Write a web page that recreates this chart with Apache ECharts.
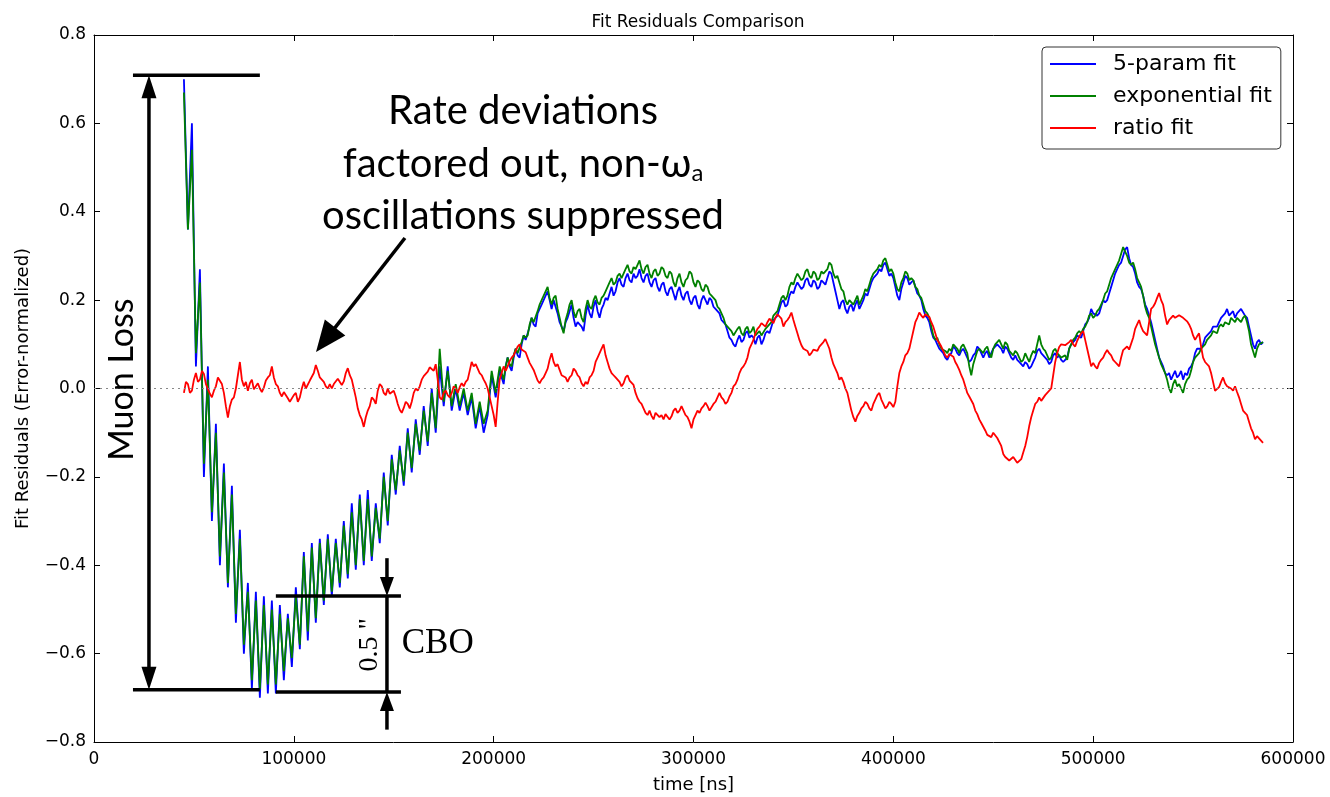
<!DOCTYPE html>
<html>
<head>
<meta charset="utf-8">
<script src="https://cdn.jsdelivr.net/npm/echarts@6/dist/echarts.min.js"></script>
<style>
  html, body { margin: 0; padding: 0; background: #fff; }
  #chart { width: 1330px; height: 797px; }
</style>
</head>
<body>
<div id="chart"></div>
<script>
// Residual series sampled every STEP_NS nanoseconds starting at START_NS.
// The *Mid arrays hold the samples that fall half a step after sample i,
// starting at the index given by the matching *_MID_FROM constant.
const START_NS = 45000;
const STEP_NS = 2000;

const fiveParamFit = [
  0.70, 0.36, 0.60, 0.05, 0.27, -0.20, 0.05, -0.30, -0.08, -0.40,
  -0.17, -0.45, -0.22, -0.53, -0.32, -0.60, -0.44, -0.68, -0.46, -0.70,
  -0.47, -0.69, -0.48, -0.69, -0.49, -0.66, -0.51, -0.63, -0.45, -0.59,
  -0.37, -0.57, -0.35, -0.53, -0.34, -0.49, -0.33, -0.47, -0.34, -0.45,
  -0.30, -0.43, -0.26, -0.41, -0.24, -0.40, -0.23, -0.39, -0.26, -0.35,
  -0.19, -0.31, -0.15, -0.24, -0.13, -0.22, -0.09, -0.19, -0.07, -0.15,
  -0.04, -0.13, 0.00, -0.10, 0.05, -0.04, 0.05, -0.05, 0.00, -0.05,
  -0.01, -0.06, -0.02, -0.09, -0.04, -0.10, -0.06, 0.03, -0.02, 0.04,
  0.01, 0.07, 0.04, 0.09, 0.07, 0.12, 0.11, 0.16, 0.14, 0.18,
  0.19, 0.22, 0.18, 0.20, 0.15, 0.13, 0.16, 0.19, 0.14, 0.15,
  0.13, 0.19, 0.16, 0.20, 0.16, 0.19, 0.20, 0.23, 0.22, 0.25,
  0.23, 0.26, 0.24, 0.25, 0.27, 0.24, 0.26, 0.23, 0.25, 0.22,
  0.24, 0.21, 0.23, 0.20, 0.23, 0.20, 0.22, 0.19, 0.21, 0.18,
  0.21, 0.19, 0.20, 0.18, 0.17, 0.15, 0.13, 0.11, 0.095, 0.12,
  0.11, 0.13, 0.12, 0.10, 0.12, 0.11, 0.13, 0.14, 0.16, 0.18,
  0.20, 0.19, 0.22, 0.23, 0.24, 0.23, 0.25, 0.23, 0.24, 0.23,
  0.24, 0.25, 0.26, 0.22, 0.18, 0.20, 0.17, 0.19, 0.19, 0.18,
  0.20, 0.21, 0.24, 0.25, 0.27, 0.28, 0.27, 0.26, 0.23, 0.20,
  0.24, 0.25, 0.24, 0.23, 0.21, 0.18, 0.16, 0.13, 0.11, 0.09,
  0.08, 0.065, 0.08, 0.09, 0.075, 0.09, 0.07, 0.065, 0.08, 0.09,
  0.07, 0.085, 0.08, 0.09, 0.10, 0.08, 0.09, 0.07, 0.075, 0.06,
  0.05, 0.055, 0.05, 0.07, 0.09, 0.08, 0.065, 0.06, 0.08, 0.075,
  0.06, 0.07, 0.10, 0.11, 0.12, 0.13, 0.15, 0.18, 0.17, 0.17,
  0.20, 0.20, 0.23, 0.26, 0.28, 0.30, 0.32, 0.28, 0.26, 0.23,
  0.21, 0.18, 0.15, 0.11, 0.07, 0.05, 0.03, 0.02, 0.04, 0.03,
  0.02, 0.03, 0.05, 0.08, 0.09, 0.10, 0.12, 0.13, 0.14, 0.15,
  0.16, 0.18, 0.17, 0.16, 0.17, 0.18, 0.16, 0.12, 0.09, 0.11,
  0.105
];
const FIVE_PARAM_MID_FROM = 80;
const fiveParamFitMid = [
  0.05, 0.05, 0.07, 0.075, 0.10, 0.11, 0.14, 0.145, 0.17, 0.19,
  0.21, 0.20, 0.20, 0.17, 0.14, 0.15, 0.175, 0.16, 0.15, 0.14,
  0.165, 0.17, 0.185, 0.175, 0.18, 0.205, 0.215, 0.21, 0.24, 0.235,
  0.25, 0.245, 0.26, 0.255, 0.25, 0.255, 0.24, 0.245, 0.23, 0.235,
  0.22, 0.225, 0.215, 0.22, 0.21, 0.215, 0.20, 0.205, 0.19, 0.20,
  0.20, 0.205, 0.185, 0.18, 0.155, 0.145, 0.115, 0.10, 0.11, 0.105,
  0.125, 0.115, 0.115, 0.115, 0.10, 0.125, 0.125, 0.155, 0.165, 0.195,
  0.185, 0.21, 0.215, 0.24, 0.225, 0.245, 0.235, 0.245, 0.225, 0.245,
  0.235, 0.265, 0.24, 0.20, 0.195, 0.18, 0.185, 0.175, 0.20, 0.19,
  0.215, 0.225, 0.25, 0.26, 0.265, 0.285, 0.255, 0.25, 0.21, 0.225,
  0.255, 0.235, 0.245, 0.215, 0.20, 0.165, 0.15, 0.115, 0.10, 0.085,
  0.07, 0.075, 0.095, 0.08, 0.085, 0.08, 0.06, 0.075, 0.095, 0.08,
  0.08, 0.07, 0.09, 0.10, 0.09, 0.095, 0.08, 0.065, 0.065, 0.055,
  0.06, 0.045, 0.06, 0.085, 0.08, 0.07, 0.055, 0.075, 0.07, 0.065,
  0.065, 0.09, 0.105, 0.12, 0.115, 0.145, 0.16, 0.17, 0.165, 0.185,
  0.195, 0.215, 0.245, 0.27, 0.285, 0.315, 0.295, 0.275, 0.24, 0.225,
  0.19, 0.165, 0.13, 0.09, 0.06, 0.035, 0.035, 0.03, 0.025, 0.04,
  0.035, 0.045, 0.06, 0.09, 0.09, 0.115, 0.12, 0.14, 0.14, 0.16,
  0.17, 0.165, 0.175, 0.17, 0.18, 0.165, 0.14, 0.10, 0.105, 0.10
];

const exponentialFit = [
  0.67, 0.36, 0.54, 0.08, 0.24, -0.17, 0.02, -0.28, -0.10, -0.38,
  -0.19, -0.44, -0.24, -0.51, -0.34, -0.58, -0.46, -0.66, -0.48, -0.68,
  -0.49, -0.67, -0.50, -0.67, -0.51, -0.64, -0.52, -0.61, -0.47, -0.58,
  -0.38, -0.55, -0.36, -0.52, -0.35, -0.48, -0.34, -0.46, -0.35, -0.44,
  -0.31, -0.42, -0.28, -0.40, -0.25, -0.39, -0.25, -0.38, -0.27, -0.34,
  -0.20, -0.30, -0.16, -0.23, -0.14, -0.21, -0.10, -0.18, -0.08, -0.14,
  -0.05, -0.12, -0.01, -0.09, 0.09, -0.03, 0.04, -0.04, 0.01, -0.04,
  0.00, -0.05, -0.01, -0.08, -0.03, -0.08, -0.05, 0.04, -0.01, 0.05,
  0.02, 0.07, 0.05, 0.09, 0.08, 0.12, 0.12, 0.16, 0.15, 0.19,
  0.20, 0.23, 0.19, 0.21, 0.16, 0.125, 0.17, 0.20, 0.16, 0.18,
  0.15, 0.20, 0.18, 0.21, 0.19, 0.21, 0.22, 0.25, 0.24, 0.26,
  0.25, 0.28, 0.26, 0.27, 0.29, 0.26, 0.28, 0.25, 0.27, 0.26,
  0.27, 0.25, 0.26, 0.23, 0.26, 0.23, 0.25, 0.26, 0.23, 0.24,
  0.22, 0.23, 0.21, 0.20, 0.18, 0.16, 0.14, 0.13, 0.12, 0.14,
  0.12, 0.14, 0.13, 0.12, 0.13, 0.12, 0.14, 0.15, 0.17, 0.19,
  0.21, 0.21, 0.24, 0.25, 0.26, 0.25, 0.27, 0.25, 0.26, 0.25,
  0.26, 0.27, 0.28, 0.25, 0.24, 0.22, 0.19, 0.20, 0.20, 0.19,
  0.21, 0.22, 0.25, 0.26, 0.28, 0.29, 0.28, 0.27, 0.24, 0.22,
  0.25, 0.26, 0.25, 0.23, 0.21, 0.19, 0.17, 0.14, 0.11, 0.10,
  0.09, 0.08, 0.085, 0.10, 0.08, 0.10, 0.08, 0.03, 0.07, 0.09,
  0.08, 0.095, 0.07, 0.10, 0.11, 0.09, 0.10, 0.08, 0.085, 0.07,
  0.065, 0.07, 0.075, 0.08, 0.12, 0.09, 0.075, 0.07, 0.09, 0.08,
  0.07, 0.065, 0.10, 0.115, 0.13, 0.135, 0.15, 0.17, 0.165, 0.18,
  0.20, 0.22, 0.25, 0.27, 0.29, 0.32, 0.30, 0.28, 0.27, 0.24,
  0.21, 0.17, 0.14, 0.10, 0.07, 0.045, 0.02, -0.01, 0.02, 0.01,
  -0.01, 0.02, 0.04, 0.07, 0.08, 0.09, 0.11, 0.12, 0.13, 0.14,
  0.14, 0.15, 0.16, 0.15, 0.16, 0.16, 0.15, 0.10, 0.07, 0.10,
  0.105
];
const EXPONENTIAL_MID_FROM = 80;
const exponentialFitMid = [
  0.05, 0.055, 0.075, 0.08, 0.105, 0.115, 0.145, 0.15, 0.175, 0.20,
  0.22, 0.205, 0.205, 0.18, 0.14, 0.155, 0.19, 0.175, 0.175, 0.16,
  0.18, 0.185, 0.20, 0.195, 0.205, 0.22, 0.24, 0.235, 0.255, 0.25,
  0.27, 0.265, 0.275, 0.28, 0.27, 0.275, 0.26, 0.265, 0.255, 0.275,
  0.255, 0.265, 0.24, 0.25, 0.24, 0.245, 0.265, 0.24, 0.245, 0.225,
  0.235, 0.215, 0.21, 0.185, 0.17, 0.145, 0.14, 0.12, 0.135, 0.125,
  0.135, 0.125, 0.14, 0.125, 0.12, 0.135, 0.14, 0.165, 0.175, 0.205,
  0.20, 0.23, 0.235, 0.26, 0.245, 0.265, 0.255, 0.265, 0.245, 0.265,
  0.26, 0.285, 0.26, 0.255, 0.225, 0.20, 0.20, 0.19, 0.21, 0.20,
  0.225, 0.235, 0.26, 0.27, 0.275, 0.295, 0.265, 0.26, 0.225, 0.24,
  0.265, 0.245, 0.245, 0.225, 0.205, 0.175, 0.16, 0.12, 0.115, 0.09,
  0.085, 0.09, 0.10, 0.09, 0.095, 0.09, 0.05, 0.055, 0.085, 0.09,
  0.09, 0.08, 0.09, 0.10, 0.10, 0.105, 0.085, 0.075, 0.08, 0.06,
  0.08, 0.06, 0.085, 0.10, 0.10, 0.085, 0.065, 0.085, 0.08, 0.07,
  0.075, 0.09, 0.11, 0.125, 0.125, 0.14, 0.165, 0.16, 0.175, 0.19,
  0.215, 0.235, 0.26, 0.28, 0.305, 0.31, 0.285, 0.285, 0.25, 0.23,
  0.185, 0.16, 0.12, 0.085, 0.055, 0.035, 0.0, 0.01, 0.005, 0.0,
  0.01, 0.025, 0.06, 0.07, 0.09, 0.10, 0.11, 0.13, 0.125, 0.145,
  0.15, 0.145, 0.155, 0.16, 0.15, 0.165, 0.13, 0.085, 0.09, 0.10
];

const ratioFit = [
  -0.01, 0.01, -0.005, 0.035, 0.02, 0.033, 0.008, -0.02, 0.005, 0.024,
  -0.01, -0.066, -0.025, 0.0, 0.06, 0.005, -0.005, 0.02, 0.005, 0.0,
  0.002, 0.025, 0.05, 0.01, -0.01, -0.008, -0.022, -0.03, -0.01, -0.02,
  0.015, 0.003, 0.02, 0.053, 0.025, 0.015, 0.0, 0.0, 0.012, 0.02,
  0.016, 0.046, 0.02, -0.02, -0.06, -0.087, -0.05, -0.02, -0.035, 0.01,
  -0.01, 0.0, -0.01, -0.018, -0.048, -0.044, -0.035, -0.03, 0.0, 0.005,
  0.028, 0.038, 0.05, 0.055, -0.02, -0.01, -0.015, -0.01, 0.0, 0.003,
  0.005, 0.02, 0.06, 0.055, 0.035, 0.02, 0.0, -0.04, -0.087, 0.02,
  0.05, 0.05, 0.07, 0.085, 0.1, 0.09, 0.07, 0.05, 0.03, 0.012,
  0.025, 0.045, 0.08, 0.05, 0.042, 0.03, 0.015, 0.03, 0.04, 0.025,
  0.005, 0.01, 0.03, 0.06, 0.08, 0.1, 0.06, 0.035, 0.025, 0.015,
  0.012, 0.03, 0.02, -0.01, -0.03, -0.045, -0.06, -0.062, -0.055, -0.065,
  -0.07, -0.06, -0.063, -0.045, -0.05, -0.05, -0.065, -0.09, -0.06, -0.055,
  -0.04, -0.04, -0.048, -0.03, -0.01, -0.025, -0.03, -0.01, 0.01, 0.035,
  0.05, 0.07, 0.1, 0.125, 0.14, 0.145, 0.15, 0.155, 0.16, 0.17,
  0.14, 0.155, 0.172, 0.14, 0.11, 0.09, 0.085, 0.08, 0.09, 0.095,
  0.105, 0.115, 0.07, 0.045, 0.02, 0.015, -0.01, -0.05, -0.075, -0.055,
  -0.04, -0.035, -0.05, -0.025, -0.01, -0.035, -0.04, -0.035, -0.03, 0.035,
  0.06, 0.08, 0.11, 0.15, 0.172, 0.16, 0.17, 0.15, 0.125, 0.103,
  0.085, 0.07, 0.08, 0.06, 0.042, 0.02, -0.01, -0.02, -0.05, -0.07,
  -0.08, -0.105, -0.11, -0.1, -0.11, -0.148, -0.157, -0.167, -0.158, -0.17,
  -0.145, -0.11, -0.065, -0.035, -0.02, -0.025, -0.01, 0.0, 0.06, 0.094,
  0.103, 0.094, 0.11, 0.095, 0.117, 0.13, 0.09, 0.05, 0.05, 0.058,
  0.07, 0.087, 0.075, 0.06, 0.05, 0.087, 0.095, 0.09, 0.135, 0.155,
  0.13, 0.12, 0.18, 0.193, 0.216, 0.19, 0.145, 0.16, 0.16, 0.166,
  0.16, 0.152, 0.135, 0.11, 0.125, 0.07, 0.062, 0.035, -0.005, 0.003,
  0.025, 0.005, 0.0, 0.005, -0.02, -0.05, -0.06, -0.09, -0.115, -0.11,
  -0.123
];
const RATIO_MID_FROM = 0;
const ratioFitMid = [
  0.015, -0.01, 0.02, 0.015, 0.04, 0.01, -0.012, -0.005, 0.025, 0.01,
  -0.04, -0.04, -0.02, 0.03, 0.02, 0.015, 0.012, -0.002, 0.012, -0.008,
  0.018, 0.03, 0.025, 0.005, -0.018, -0.012, -0.03, -0.015, -0.03, 0.0,
  0.0, 0.018, 0.035, 0.04, 0.025, 0.005, 0.01, 0.01, 0.022, 0.008,
  0.035, 0.03, 0.0, -0.045, -0.07, -0.065, -0.04, -0.025, -0.005, 0.005,
  -0.015, -0.012, -0.005, -0.035, -0.055, -0.03, -0.045, -0.01, -0.005, 0.02,
  0.03, 0.048, 0.04, 0.02, -0.025, -0.005, -0.02, 0.005, -0.01, 0.012,
  0.015, 0.04, 0.05, 0.045, 0.03, 0.012, -0.02, -0.06, -0.03, 0.035,
  0.04, 0.062, 0.075, 0.095, 0.088, 0.082, 0.058, 0.042, 0.018, 0.02,
  0.035, 0.065, 0.06, 0.055, 0.03, 0.025, 0.025, 0.045, 0.03, 0.012,
  0.015, 0.025, 0.04, 0.07, 0.09, 0.075, 0.045, 0.03, 0.022, 0.005,
  0.025, 0.018, 0.008, -0.022, -0.035, -0.055, -0.05, -0.07, -0.058, -0.06,
  -0.058, -0.07, -0.05, -0.055, -0.04, -0.06, -0.075, -0.07, -0.05, -0.045,
  -0.032, -0.05, -0.035, -0.02, -0.02, -0.035, -0.018, 0.005, 0.02, 0.045,
  0.058, 0.09, 0.11, 0.135, 0.148, 0.14, 0.158, 0.148, 0.168, 0.158,
  0.15, 0.162, 0.155, 0.125, 0.098, 0.092, 0.075, 0.088, 0.085, 0.10,
  0.112, 0.09, 0.055, 0.035, 0.025, 0.0, -0.03, -0.065, -0.062, -0.045,
  -0.03, -0.045, -0.035, -0.015, -0.025, -0.045, -0.03, -0.042, 0.005, 0.05,
  0.075, 0.09, 0.13, 0.16, 0.165, 0.168, 0.162, 0.14, 0.11, 0.095,
  0.075, 0.078, 0.072, 0.052, 0.03, 0.005, -0.018, -0.035, -0.058, -0.078,
  -0.095, -0.108, -0.10, -0.112, -0.13, -0.155, -0.163, -0.155, -0.168, -0.16,
  -0.13, -0.085, -0.05, -0.03, -0.028, -0.015, -0.012, 0.03, 0.08, 0.10,
  0.098, 0.105, 0.10, 0.108, 0.125, 0.11, 0.07, 0.058, 0.045, 0.065,
  0.08, 0.08, 0.065, 0.055, 0.07, 0.09, 0.088, 0.115, 0.145, 0.14,
  0.128, 0.15, 0.185, 0.205, 0.20, 0.165, 0.155, 0.165, 0.158, 0.162,
  0.158, 0.145, 0.12, 0.118, 0.095, 0.06, 0.05, 0.015, -0.002, 0.015,
  0.012, 0.008, -0.005, -0.008, -0.035, -0.055, -0.075, -0.10, -0.108, -0.118
];

const seriesNames = ['5-param fit', 'exponential fit', 'ratio fit'];
const seriesColors = ['#0000ff', '#008000', '#ff0000'];

const X_MIN = 0, X_MAX = 600000, X_INTERVAL = 100000;
const Y_MIN = -0.8, Y_MAX = 0.8, Y_INTERVAL = 0.2;

// interleave the regular samples with the half-step samples, in time order
function mergeSamples(main, mid, midFrom) {
  const pts = [];
  main.forEach((v, i) => {
    const t = START_NS + i * STEP_NS;
    pts.push([t, v]);
    const k = i - midFrom;
    if (k >= 0 && k < mid.length) pts.push([t + STEP_NS / 2, mid[k]]);
  });
  return pts;
}

const AXIS_FONT = 'DejaVu Sans';
const NOTE_FONT = 'Lato';
const SERIF_FONT = 'Liberation Serif';

const formatY = v => {
  const s = Math.abs(v).toFixed(1);
  return v < -1e-9 ? '\u2212' + s : s;
};
const formatX = v => String(Math.round(v));

const innerTick = { show: true, inside: true, length: 6, lineStyle: { color: '#000', width: 1 } };
const frameLine = { show: true, onZero: false, lineStyle: { color: '#000', width: 1 } };

const chart = echarts.init(document.getElementById('chart'), null, { renderer: 'canvas' });

const seriesData = [
  mergeSamples(fiveParamFit, fiveParamFitMid, FIVE_PARAM_MID_FROM),
  mergeSamples(exponentialFit, exponentialFitMid, EXPONENTIAL_MID_FROM),
  mergeSamples(ratioFit, ratioFitMid, RATIO_MID_FROM)
];

const lineSeries = seriesData.map((data, k) => ({
  name: seriesNames[k],
  type: 'line',
  data: data,
  symbol: 'none',
  showSymbol: false,
  silent: true,
  z: 2 + k,
  lineStyle: { color: seriesColors[k], width: 1.8 },
  itemStyle: { color: seriesColors[k] }
}));

// dotted zero reference
lineSeries[0].markLine = {
  silent: true,
  symbol: 'none',
  label: { show: false },
  lineStyle: { color: '#888', width: 1, type: [2, 4] },
  data: [{ yAxis: 0 }]
};

chart.setOption({
  animation: false,
  backgroundColor: '#fff',
  title: {
    text: 'Fit Residuals Comparison',
    left: 693, top: 9, textAlign: 'center',
    textStyle: { fontFamily: AXIS_FONT, fontSize: 17, fontWeight: 'normal', color: '#000' }
  },
  grid: { left: 94, right: 37, top: 35, bottom: 55, outerBoundsMode: 'none' },
  legend: {
    orient: 'vertical',
    left: 1042, top: 47,
    padding: [4, 9, 8, 8],
    itemGap: 6,
    icon: 'rect',
    itemWidth: 46, itemHeight: 2,
    data: seriesNames,
    backgroundColor: '#fff',
    borderColor: '#333', borderWidth: 1, borderRadius: 4,
    textStyle: { fontFamily: AXIS_FONT, fontSize: 22, color: '#000', lineHeight: 26, padding: [0, 0, 0, 12] }
  },
  xAxis: [
    {
      type: 'value', min: X_MIN, max: X_MAX, interval: X_INTERVAL, position: 'bottom',
      name: 'time [ns]', nameLocation: 'middle', nameGap: 34,
      nameTextStyle: { fontFamily: AXIS_FONT, fontSize: 18, color: '#000' },
      axisLine: frameLine, axisTick: innerTick,
      axisLabel: { color: '#000', fontFamily: AXIS_FONT, fontSize: 17, margin: 9, formatter: formatX },
      splitLine: { show: false }
    },
    {
      type: 'value', min: X_MIN, max: X_MAX, interval: X_INTERVAL, position: 'top',
      axisLine: frameLine, axisTick: innerTick,
      axisLabel: { show: false }, splitLine: { show: false }
    }
  ],
  yAxis: [
    {
      type: 'value', min: Y_MIN, max: Y_MAX, interval: Y_INTERVAL, position: 'left',
      name: 'Fit Residuals (Error-normalized)', nameLocation: 'middle', nameGap: 62, nameRotate: 90,
      nameTextStyle: { fontFamily: AXIS_FONT, fontSize: 18, color: '#000' },
      axisLine: frameLine, axisTick: innerTick,
      axisLabel: { color: '#000', fontFamily: AXIS_FONT, fontSize: 17, margin: 8, formatter: formatY },
      splitLine: { show: false }
    },
    {
      type: 'value', min: Y_MIN, max: Y_MAX, interval: Y_INTERVAL, position: 'right',
      axisLine: frameLine, axisTick: innerTick,
      axisLabel: { show: false }, splitLine: { show: false }
    }
  ],
  series: lineSeries
});

// Annotation anchors, in data units (time ns, residual)
const muonLoss = { xLeft: 19500, xRight: 83000, xArrow: 27500, yTop: 0.709, yBottom: -0.682, labelX: 14000, labelY: 0.02 };
const cbo = {
  xLeft: 91000, xRight: 153600, xArrow: 146600, yTop: -0.4695, yBottom: -0.687,
  yUpperTail: -0.384, yLowerTail: -0.772,
  sizeX: 138100, sizeY: -0.58, textX: 172000, textY: -0.578
};
const note = { tail: [155600, 0.3405], tip: [111100, 0.0826], textX: 214700, lineY: [0.628, 0.508, 0.390] };

const px = (x, y) => chart.convertToPixel({ gridIndex: 0 }, [x, y]);

function segment(a, b, w) {
  return { type: 'line', z: 50, shape: { x1: a[0], y1: a[1], x2: b[0], y2: b[1] }, style: { stroke: '#000', lineWidth: w || 3.5 } };
}
function head(tip, from, len, half) {
  const dx = tip[0] - from[0], dy = tip[1] - from[1];
  const d = Math.hypot(dx, dy), ux = dx / d, uy = dy / d;
  const bx = tip[0] - ux * len, by = tip[1] - uy * len;
  return {
    type: 'polygon', z: 51,
    shape: { points: [[tip[0], tip[1]], [bx - uy * half, by + ux * half], [bx + uy * half, by - ux * half]] },
    style: { fill: '#000' }
  };
}
function arrowTo(from, tip, len, half, w) {
  const d = Math.hypot(tip[0] - from[0], tip[1] - from[1]);
  const t = (d - len * 0.6) / d;
  const stop = [from[0] + (tip[0] - from[0]) * t, from[1] + (tip[1] - from[1]) * t];
  return [segment(from, stop, w), head(tip, from, len, half)];
}
function label(p, text, font, size, rot) {
  return {
    type: 'text', z: 52, x: p[0], y: p[1], rotation: rot || 0,
    style: {
      text: text, fontFamily: font, fontSize: size, fill: '#000',
      align: 'center', verticalAlign: 'middle', textAlign: 'center', textVerticalAlign: 'middle'
    }
  };
}

const els = [];
// muon loss bracket
const mTopL = px(muonLoss.xLeft, muonLoss.yTop), mTopR = px(muonLoss.xRight, muonLoss.yTop);
const mBotL = px(muonLoss.xLeft, muonLoss.yBottom), mBotR = px(muonLoss.xRight, muonLoss.yBottom);
const mA = px(muonLoss.xArrow, muonLoss.yTop), mB = px(muonLoss.xArrow, muonLoss.yBottom);
els.push(segment(mTopL, mTopR), segment(mBotL, mBotR));
els.push(segment([mA[0], mA[1] + 15], [mB[0], mB[1] - 15]));
els.push(head(mA, mB, 23, 7.5), head(mB, mA, 23, 7.5));
els.push(label(px(muonLoss.labelX, muonLoss.labelY), 'Muon Loss', NOTE_FONT, 34, Math.PI / 2));

// CBO amplitude marker
const cTopL = px(cbo.xLeft, cbo.yTop), cTopR = px(cbo.xRight, cbo.yTop);
const cBotL = px(cbo.xLeft, cbo.yBottom), cBotR = px(cbo.xRight, cbo.yBottom);
const cA = px(cbo.xArrow, cbo.yTop), cB = px(cbo.xArrow, cbo.yBottom);
els.push(segment(cTopL, cTopR), segment(cBotL, cBotR), segment(cA, cB));
els.push(...arrowTo(px(cbo.xArrow, cbo.yUpperTail), cA, 19, 7));
els.push(...arrowTo(px(cbo.xArrow, cbo.yLowerTail), cB, 19, 7));
els.push(label(px(cbo.sizeX, cbo.sizeY), '0.5 "', SERIF_FONT, 28, Math.PI / 2));
els.push(label(px(cbo.textX, cbo.textY), 'CBO', SERIF_FONT, 35, 0));

// rate deviation note
els.push(...arrowTo(px(note.tail[0], note.tail[1]), px(note.tip[0], note.tip[1]), 31, 13, 3.5));
els.push(label(px(note.textX, note.lineY[0]), 'Rate deviations', NOTE_FONT, 40, 0));
const line2 = px(note.textX, note.lineY[1]);
els.push({
  type: 'text', z: 52, x: line2[0], y: line2[1],
  style: {
    text: '{m|factored out, non-\u03c9}{s|a}',
    align: 'center', verticalAlign: 'middle', textAlign: 'center', textVerticalAlign: 'middle',
    fill: '#000',
    rich: {
      m: { fontFamily: NOTE_FONT, fontSize: 40, fill: '#000', color: '#000' },
      s: { fontFamily: NOTE_FONT, fontSize: 24, fill: '#000', color: '#000', padding: [18, 0, 0, 0] }
    }
  }
});
els.push(label(px(note.textX, note.lineY[2]), 'oscillations suppressed', NOTE_FONT, 40, 0));

chart.setOption({ graphic: { elements: els } });
</script>
</body>
</html>
